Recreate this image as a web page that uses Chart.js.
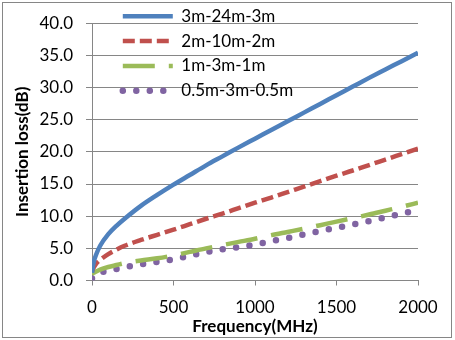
<!DOCTYPE html>
<html>
<head>
<meta charset="utf-8">
<script src="https://cdn.jsdelivr.net/npm/chart.js@4/dist/chart.umd.min.js"></script>
<style>
  html, body { margin: 0; padding: 0; background: #fff; }
  #wrap { width: 455px; height: 340px; position: relative; }
</style>
</head>
<body>
<div id="wrap"><canvas id="chart"></canvas></div>
<script>
// Frequency points (MHz) shared by every series
const freq = [0, 10, 25, 50, 100, 150, 200, 300, 400, 500, 600, 700, 800, 900,
  1000, 1100, 1200, 1300, 1400, 1500, 1600, 1700, 1800, 1900, 2000];

// Insertion loss (dB)
const loss3m24m = [1.2, 2.8, 4.0, 5.4, 7.2, 8.5, 9.6, 11.6, 13.3, 14.9, 16.4, 17.9, 19.3, 20.7,
  22.05, 23.4, 24.75, 26.1, 27.45, 28.8, 30.15, 31.5, 32.8, 34.1, 35.4];
const loss2m10m = [1.4, 2.0, 2.6, 3.2, 4.1, 4.8, 5.4, 6.3, 7.1, 7.9, 8.75, 9.6, 10.4, 11.25,
  12.1, 12.9, 13.75, 14.6, 15.45, 16.3, 17.1, 17.95, 18.8, 19.65, 20.5];
const loss1m3m = [0.95, 1.2, 1.4, 1.7, 2.1, 2.4, 2.7, 3.1, 3.45, 3.9, 4.45, 5.0, 5.5, 6.0,
  6.5, 7.05, 7.55, 8.05, 8.6, 9.15, 9.7, 10.25, 10.85, 11.45, 12.1];
const loss05m3m = [0.3, 0.6, 0.9, 1.2, 1.5, 1.8, 2.05, 2.5, 2.9, 3.3, 3.85, 4.4, 4.85, 5.2,
  5.6, 6.1, 6.6, 7.15, 7.7, 8.2, 8.7, 9.25, 9.8, 10.4, 10.95];

const seriesNames = ["3m-24m-3m", "2m-10m-2m", "1m-3m-1m", "0.5m-3m-0.5m"];

const yTicks = { min: 0, max: 40, step: 5 };
const xTicks = { min: 0, max: 2000, step: 500 };

const GRID = "#868686";
const FONT = "Lato, 'Liberation Sans', sans-serif";

Chart.defaults.font.family = FONT;
Chart.defaults.color = "#000";

const toPoints = (vals) => vals.map((v, i) => ({ x: freq[i], y: v }));

// White page with a thin grey frame round the whole chart
const frame = {
  id: "frame",
  beforeDraw(chart) {
    const { ctx, width, height } = chart;
    ctx.save();
    ctx.fillStyle = "#fff";
    ctx.fillRect(0, 0, width, height);
    ctx.restore();
  },
  afterDraw(chart) {
    const { ctx } = chart;
    ctx.save();
    ctx.strokeStyle = GRID;
    ctx.lineWidth = 1;
    ctx.strokeRect(2.5, 2.5, 449, 335);
    ctx.restore();
  },
};

// Nudge the in-plot legend up into the top-left corner
const legendSpot = {
  id: "legendSpot",
  afterLayout(chart) {
    if (!chart.legend) return;
    chart.legend.left = 115;
    chart.legend.top = 0;
  },
};

// Legend samples take the dataset's own line style (dash, cap, width)
function lineLabels(chart) {
  const items = Chart.defaults.plugins.legend.labels.generateLabels(chart);
  items.forEach((item) => {
    const ds = chart.data.datasets[item.datasetIndex];
    item.lineDash = ds.borderDash || [];
    item.lineCap = ds.borderCapStyle || "butt";
    item.lineWidth = ds.borderWidth;
    item.strokeStyle = ds.borderColor;
    item.pointStyle = "line";
  });
  return items;
}

new Chart(document.getElementById("chart"), {
  type: "line",
  data: {
    datasets: [
      {
        label: seriesNames[0],
        data: toPoints(loss3m24m),
        borderColor: "#4F81BD",
        backgroundColor: "#4F81BD",
        borderWidth: 4.5,
        borderCapStyle: "butt",
      },
      {
        label: seriesNames[1],
        data: toPoints(loss2m10m),
        borderColor: "#C0504D",
        backgroundColor: "#C0504D",
        borderWidth: 4.5,
        borderDash: [12, 5],
        borderCapStyle: "butt",
      },
      {
        label: seriesNames[2],
        data: toPoints(loss1m3m),
        borderColor: "#9BBB59",
        backgroundColor: "#9BBB59",
        borderWidth: 4.5,
        borderDash: [32, 14],
        borderCapStyle: "butt",
      },
      {
        label: seriesNames[3],
        data: toPoints(loss05m3m),
        borderColor: "#8064A2",
        backgroundColor: "#8064A2",
        borderWidth: 6.5,
        borderDash: [0, 13.5],
        borderCapStyle: "round",
      },
    ],
  },
  options: {
    responsive: true,
    maintainAspectRatio: false,
    animation: false,
    elements: {
      point: { radius: 0, hoverRadius: 0 },
      line: { cubicInterpolationMode: "monotone", fill: false },
    },
    layout: { padding: { left: 0, right: 37, top: 20, bottom: 0 } },
    plugins: {
      tooltip: { enabled: false },
      legend: {
        position: "chartArea",
        align: "start",
        labels: {
          usePointStyle: true,
          pointStyle: "line",
          pointStyleWidth: 50,
          padding: 7.8,
          color: "#000",
          font: { family: FONT, size: 17 },
          generateLabels: lineLabels,
        },
      },
    },
    scales: {
      x: {
        type: "linear",
        min: xTicks.min,
        max: xTicks.max,
        afterFit: (scale) => { scale.height = 59.5; },
        ticks: {
          stepSize: xTicks.step,
          padding: 12,
          maxRotation: 0,
          color: "#000",
          font: { family: FONT, size: 17 },
          callback: (val) => String(val),
        },
        grid: {
          drawOnChartArea: false,
          drawTicks: true,
          tickLength: 5,
          color: GRID,
        },
        border: { display: true, color: GRID },
        title: {
          display: true,
          text: "Frequency(MHz)",
          color: "#000",
          font: { family: FONT, size: 17, weight: "bold" },
          padding: { top: 0, bottom: 3 },
        },
      },
      y: {
        min: yTicks.min,
        max: yTicks.max,
        afterFit: (scale) => { scale.width = 92; },
        ticks: {
          stepSize: yTicks.step,
          padding: 13,
          color: "#000",
          font: { family: FONT, size: 17 },
          callback: (val) => val.toFixed(1),
        },
        grid: {
          color: GRID,
          drawTicks: true,
          tickLength: 6,
        },
        border: { display: true, color: GRID },
        title: {
          display: true,
          text: "Insertion loss(dB)",
          color: "#000",
          font: { family: FONT, size: 17, weight: "bold" },
          padding: { top: 12, bottom: 0 },
        },
      },
    },
  },
  plugins: [frame, legendSpot],
});
</script>
</body>
</html>
